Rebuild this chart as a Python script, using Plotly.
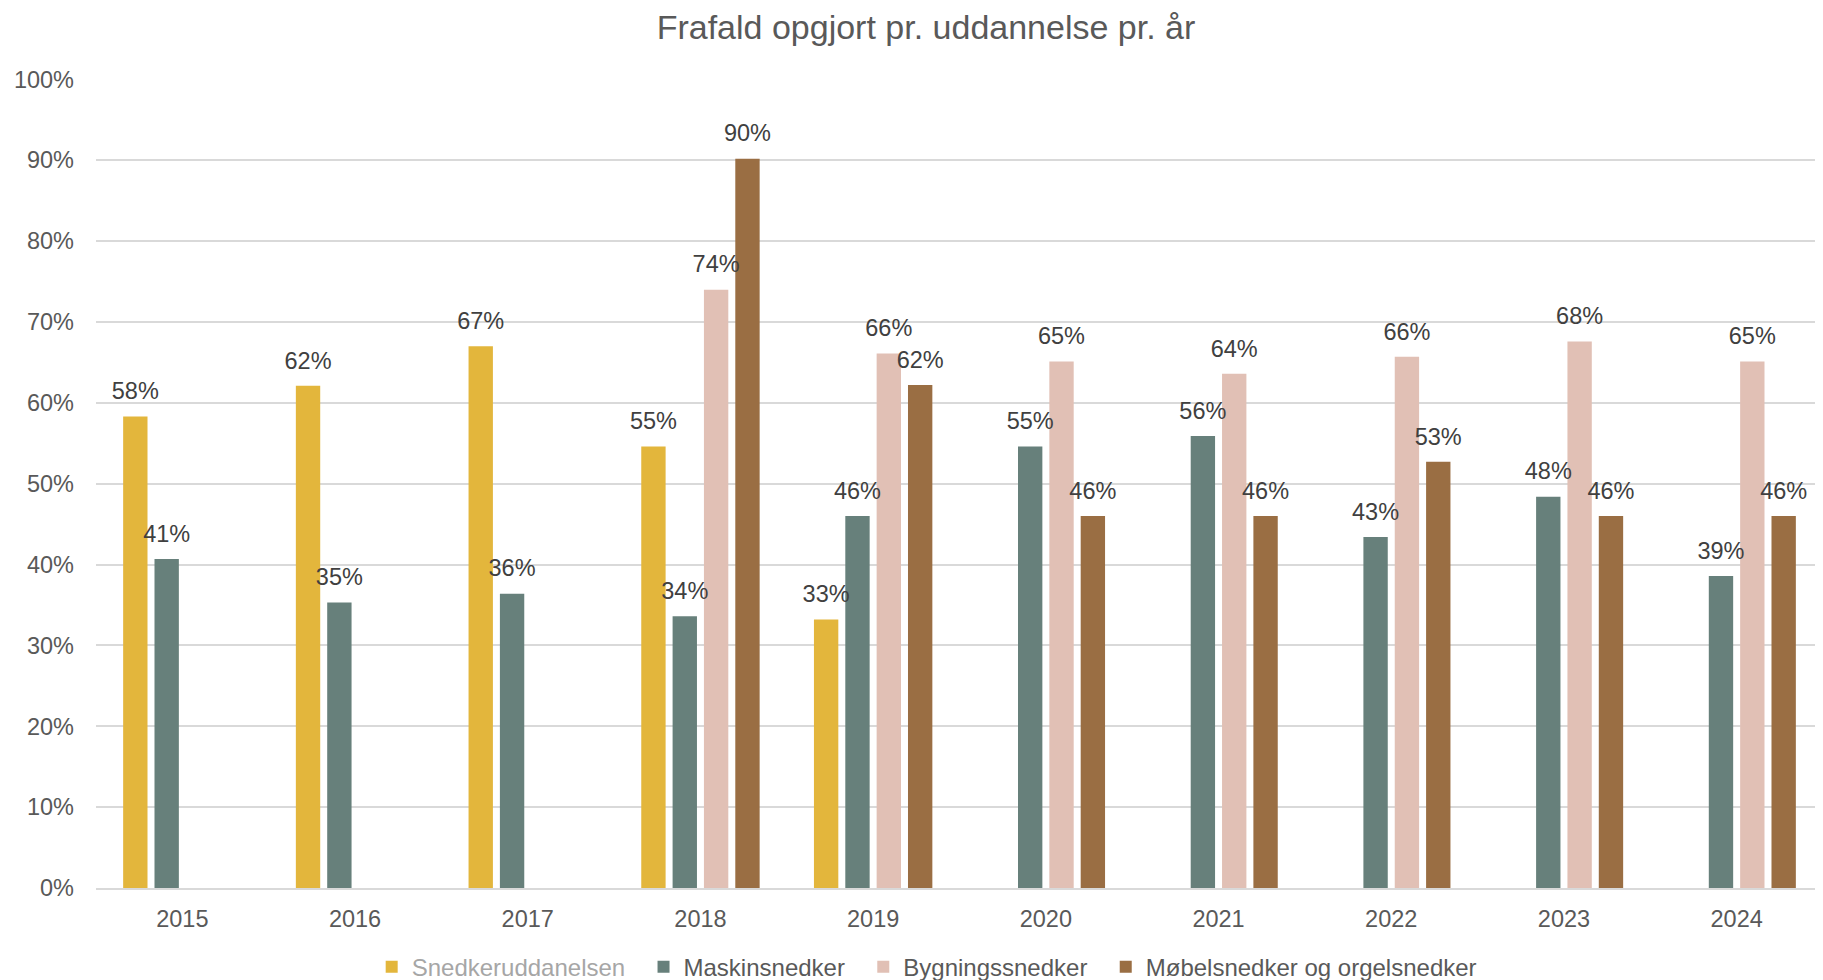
import plotly.graph_objects as go

years = ["2015", "2016", "2017", "2018", "2019", "2020", "2021", "2022", "2023", "2024"]
series_names = ["Snedkeruddanelsen", "Maskinsnedker", "Bygningssnedker", "Møbelsnedker og orgelsnedker"]

snedker = [0.583, 0.621, 0.670, 0.546, 0.332, None, None, None, None, None]
maskin = [0.407, 0.353, 0.364, 0.336, 0.460, 0.546, 0.559, 0.434, 0.484, 0.386]
bygning = [None, None, None, 0.740, 0.661, 0.651, 0.636, 0.657, 0.676, 0.651]
mobel = [None, None, None, 0.902, 0.622, 0.460, 0.460, 0.527, 0.460, 0.460]

colors = ["#E3B63C", "#67807B", "#E1C0B5", "#9A6E43"]
NB = "\u00a0" * 2
legend_labels = [
    "<span style='color:#A6A6A6'>Snedkeruddanelsen" + NB + "</span>",
    "Maskinsnedker" + NB,
    "Bygningssnedker" + NB,
    "Møbelsnedker og orgelsnedker",
]

FONT = "Liberation Sans, Arial, sans-serif"
BARGAP = 0.274

fig = go.Figure()
all_series = [snedker, maskin, bygning, mobel]
for i, (vals, col, lab) in enumerate(zip(all_series, colors, legend_labels)):
    fig.add_trace(go.Bar(
        x=years, y=vals, name=lab, offsetgroup=str(i),
        marker=dict(color=col, line=dict(width=0)),
    ))
# data labels, grouped exactly like the bars
for i, vals in enumerate(all_series):
    fig.add_trace(go.Scatter(
        x=years, y=vals, mode="markers+text", offsetgroup=str(i), orientation="v",
        marker=dict(size=16.5, color="rgba(0,0,0,0)"),
        text=[None if v is None else f"{round(v * 100):.0f}%" for v in vals],
        textposition="top center",
        textfont=dict(family=FONT, size=23.5, color="#404040"),
        showlegend=False, hoverinfo="skip", cliponaxis=False,
    ))

# page body has an 8px margin, so the figure is 1815x972 placed at (8, 8)
W, H = 1815, 972
fig.update_layout(
    width=W, height=H,
    paper_bgcolor="white", plot_bgcolor="white",
    barmode="group", bargap=BARGAP, bargroupgap=0.223,
    scattermode="group", scattergap=BARGAP,
    margin=dict(l=88, r=0, t=71, b=92, autoexpand=False),
    title=dict(text="Frafald opgjort pr. uddannelse pr. år",
               font=dict(family=FONT, size=34, color="#595959"),
               x=918 / W, xref="container", xanchor="center",
               y=1.0, yref="container", yanchor="top", pad=dict(t=7.5)),
    font=dict(family=FONT, color="#595959"),
    showlegend=True,
    legend=dict(orientation="h", x=0.481, xanchor="center", y=-0.0977, yanchor="middle",
                font=dict(family=FONT, size=24, color="#595959"),
                traceorder="normal", itemclick=False),
    xaxis=dict(type="category", showgrid=False, showline=True, linecolor="#D9D9D9", linewidth=2,
               ticks="", tickfont=dict(family=FONT, size=23.5, color="#595959"),
               ticklabelstandoff=9),
    yaxis=dict(range=[0, 1.0005], dtick=0.1, tickformat=".0%", showgrid=True,
               gridcolor="#D9D9D9", gridwidth=1.5, zeroline=False, showline=False,
               tickfont=dict(family=FONT, size=23.5, color="#595959"),
               ticklabelstandoff=21),
)

fig.write_html("out.html")
